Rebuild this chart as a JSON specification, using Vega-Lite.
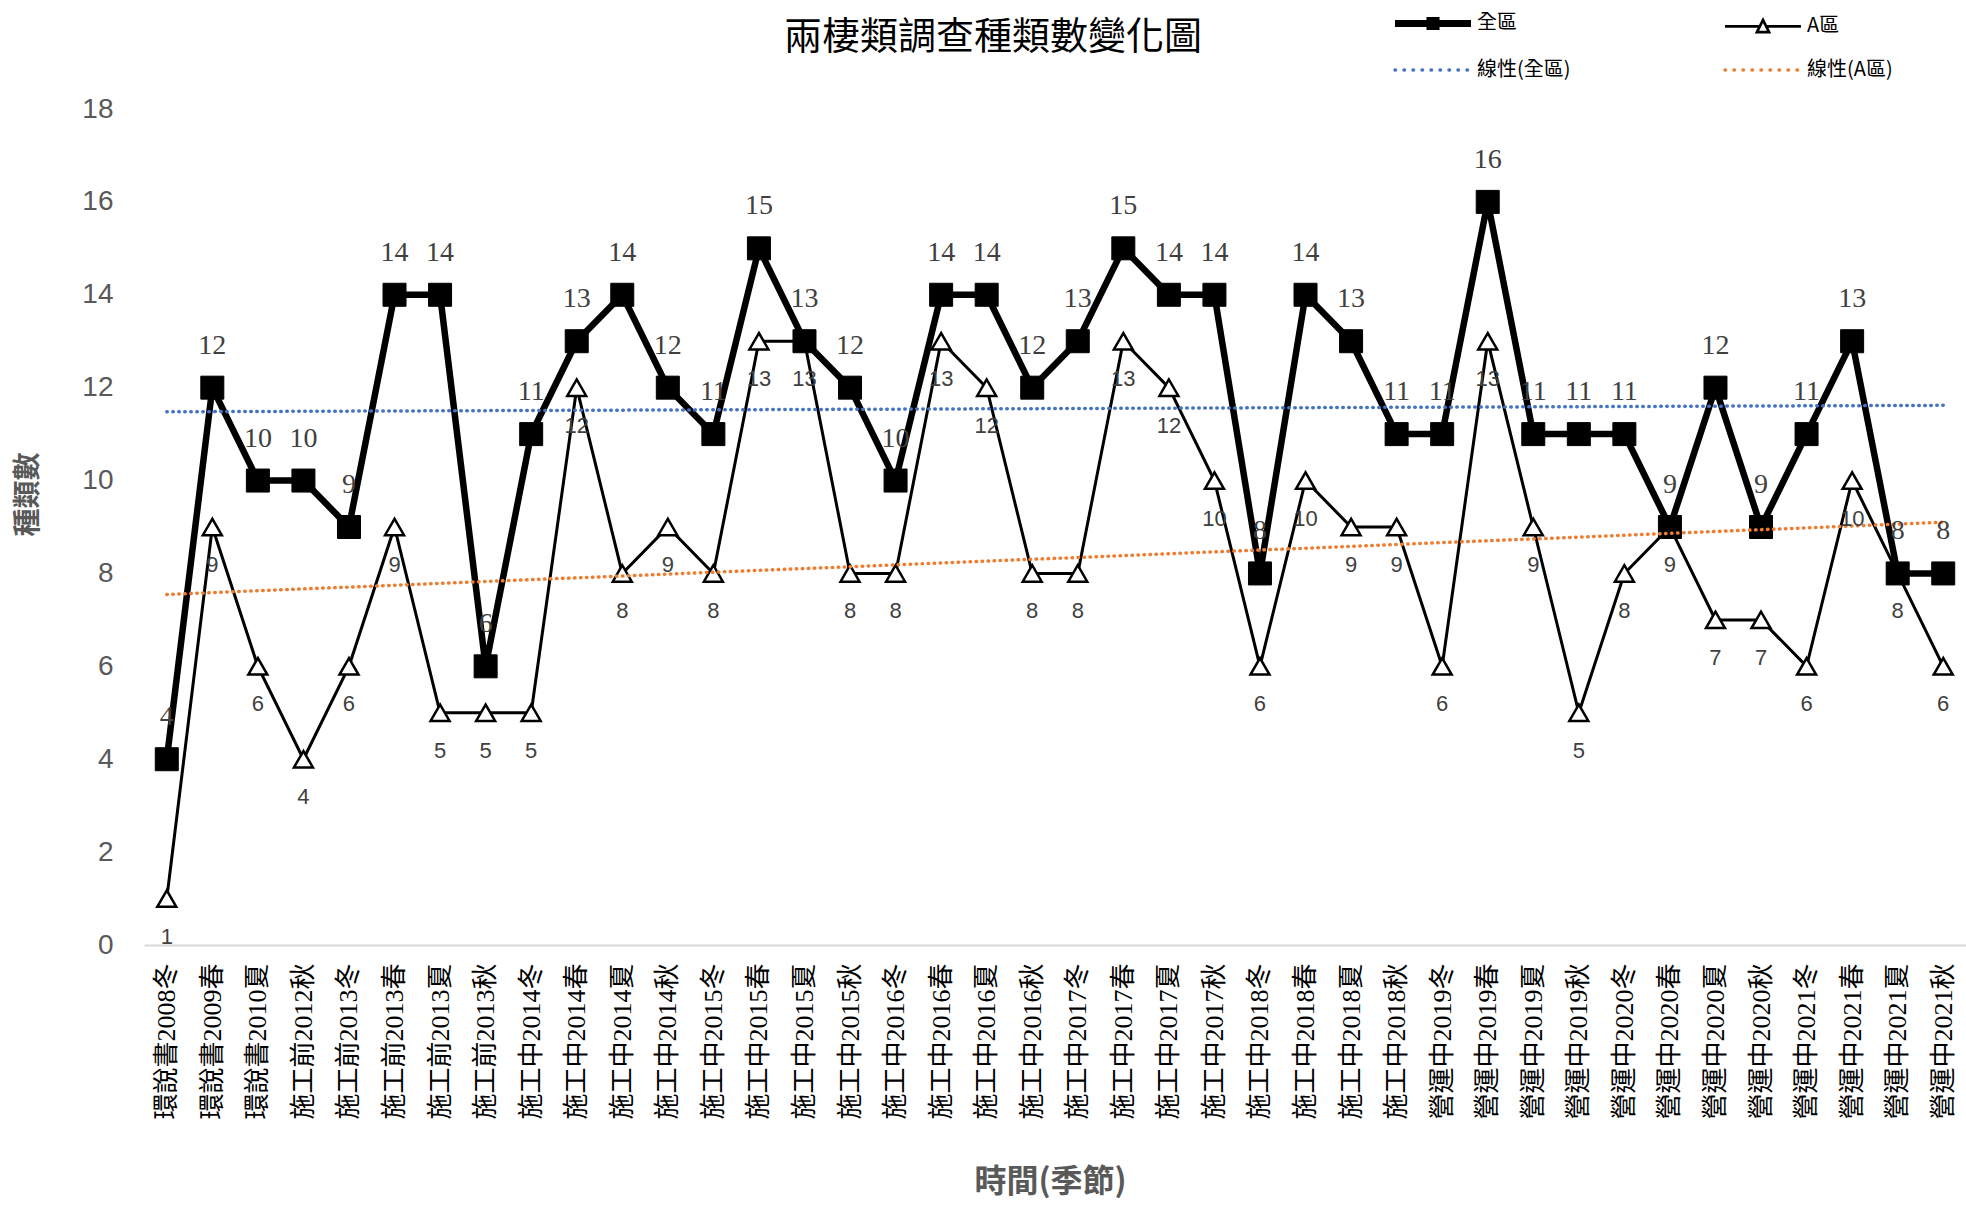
{
 "$schema": "https://vega.github.io/schema/vega-lite/v6.json",
 "autosize": {"type": "none"},
 "padding": {"left": 144, "top": 109, "right": 0, "bottom": 260},
 "width": 1822,
 "height": 836,
 "background": "white",
 "title": {"text": "兩棲類調查種類數變化圖", "font": "Noto Sans CJK TC", "fontSize": 38, "fontWeight": "normal", "color": "#000000", "anchor": "middle", "frame": "group", "offset": 0, "dy": 44, "dx": -62},
 "config": {"view": {"stroke": null}, "axis": {"grid": false}},
 "datasets": {"main": [
  {"cat":"環說書2008冬","i":1,"series":"全區","trend":"線性(全區)","v":4},
  {"cat":"環說書2009春","i":2,"series":"全區","trend":"線性(全區)","v":12},
  {"cat":"環說書2010夏","i":3,"series":"全區","trend":"線性(全區)","v":10},
  {"cat":"施工前2012秋","i":4,"series":"全區","trend":"線性(全區)","v":10},
  {"cat":"施工前2013冬","i":5,"series":"全區","trend":"線性(全區)","v":9},
  {"cat":"施工前2013春","i":6,"series":"全區","trend":"線性(全區)","v":14},
  {"cat":"施工前2013夏","i":7,"series":"全區","trend":"線性(全區)","v":14},
  {"cat":"施工前2013秋","i":8,"series":"全區","trend":"線性(全區)","v":6},
  {"cat":"施工中2014冬","i":9,"series":"全區","trend":"線性(全區)","v":11},
  {"cat":"施工中2014春","i":10,"series":"全區","trend":"線性(全區)","v":13},
  {"cat":"施工中2014夏","i":11,"series":"全區","trend":"線性(全區)","v":14},
  {"cat":"施工中2014秋","i":12,"series":"全區","trend":"線性(全區)","v":12},
  {"cat":"施工中2015冬","i":13,"series":"全區","trend":"線性(全區)","v":11},
  {"cat":"施工中2015春","i":14,"series":"全區","trend":"線性(全區)","v":15},
  {"cat":"施工中2015夏","i":15,"series":"全區","trend":"線性(全區)","v":13},
  {"cat":"施工中2015秋","i":16,"series":"全區","trend":"線性(全區)","v":12},
  {"cat":"施工中2016冬","i":17,"series":"全區","trend":"線性(全區)","v":10},
  {"cat":"施工中2016春","i":18,"series":"全區","trend":"線性(全區)","v":14},
  {"cat":"施工中2016夏","i":19,"series":"全區","trend":"線性(全區)","v":14},
  {"cat":"施工中2016秋","i":20,"series":"全區","trend":"線性(全區)","v":12},
  {"cat":"施工中2017冬","i":21,"series":"全區","trend":"線性(全區)","v":13},
  {"cat":"施工中2017春","i":22,"series":"全區","trend":"線性(全區)","v":15},
  {"cat":"施工中2017夏","i":23,"series":"全區","trend":"線性(全區)","v":14},
  {"cat":"施工中2017秋","i":24,"series":"全區","trend":"線性(全區)","v":14},
  {"cat":"施工中2018冬","i":25,"series":"全區","trend":"線性(全區)","v":8},
  {"cat":"施工中2018春","i":26,"series":"全區","trend":"線性(全區)","v":14},
  {"cat":"施工中2018夏","i":27,"series":"全區","trend":"線性(全區)","v":13},
  {"cat":"施工中2018秋","i":28,"series":"全區","trend":"線性(全區)","v":11},
  {"cat":"營運中2019冬","i":29,"series":"全區","trend":"線性(全區)","v":11},
  {"cat":"營運中2019春","i":30,"series":"全區","trend":"線性(全區)","v":16},
  {"cat":"營運中2019夏","i":31,"series":"全區","trend":"線性(全區)","v":11},
  {"cat":"營運中2019秋","i":32,"series":"全區","trend":"線性(全區)","v":11},
  {"cat":"營運中2020冬","i":33,"series":"全區","trend":"線性(全區)","v":11},
  {"cat":"營運中2020春","i":34,"series":"全區","trend":"線性(全區)","v":9},
  {"cat":"營運中2020夏","i":35,"series":"全區","trend":"線性(全區)","v":12},
  {"cat":"營運中2020秋","i":36,"series":"全區","trend":"線性(全區)","v":9},
  {"cat":"營運中2021冬","i":37,"series":"全區","trend":"線性(全區)","v":11},
  {"cat":"營運中2021春","i":38,"series":"全區","trend":"線性(全區)","v":13},
  {"cat":"營運中2021夏","i":39,"series":"全區","trend":"線性(全區)","v":8},
  {"cat":"營運中2021秋","i":40,"series":"全區","trend":"線性(全區)","v":8},
  {"cat":"環說書2008冬","i":1,"series":"A區","trend":"線性(A區)","v":1},
  {"cat":"環說書2009春","i":2,"series":"A區","trend":"線性(A區)","v":9},
  {"cat":"環說書2010夏","i":3,"series":"A區","trend":"線性(A區)","v":6},
  {"cat":"施工前2012秋","i":4,"series":"A區","trend":"線性(A區)","v":4},
  {"cat":"施工前2013冬","i":5,"series":"A區","trend":"線性(A區)","v":6},
  {"cat":"施工前2013春","i":6,"series":"A區","trend":"線性(A區)","v":9},
  {"cat":"施工前2013夏","i":7,"series":"A區","trend":"線性(A區)","v":5},
  {"cat":"施工前2013秋","i":8,"series":"A區","trend":"線性(A區)","v":5},
  {"cat":"施工中2014冬","i":9,"series":"A區","trend":"線性(A區)","v":5},
  {"cat":"施工中2014春","i":10,"series":"A區","trend":"線性(A區)","v":12},
  {"cat":"施工中2014夏","i":11,"series":"A區","trend":"線性(A區)","v":8},
  {"cat":"施工中2014秋","i":12,"series":"A區","trend":"線性(A區)","v":9},
  {"cat":"施工中2015冬","i":13,"series":"A區","trend":"線性(A區)","v":8},
  {"cat":"施工中2015春","i":14,"series":"A區","trend":"線性(A區)","v":13},
  {"cat":"施工中2015夏","i":15,"series":"A區","trend":"線性(A區)","v":13},
  {"cat":"施工中2015秋","i":16,"series":"A區","trend":"線性(A區)","v":8},
  {"cat":"施工中2016冬","i":17,"series":"A區","trend":"線性(A區)","v":8},
  {"cat":"施工中2016春","i":18,"series":"A區","trend":"線性(A區)","v":13},
  {"cat":"施工中2016夏","i":19,"series":"A區","trend":"線性(A區)","v":12},
  {"cat":"施工中2016秋","i":20,"series":"A區","trend":"線性(A區)","v":8},
  {"cat":"施工中2017冬","i":21,"series":"A區","trend":"線性(A區)","v":8},
  {"cat":"施工中2017春","i":22,"series":"A區","trend":"線性(A區)","v":13},
  {"cat":"施工中2017夏","i":23,"series":"A區","trend":"線性(A區)","v":12},
  {"cat":"施工中2017秋","i":24,"series":"A區","trend":"線性(A區)","v":10},
  {"cat":"施工中2018冬","i":25,"series":"A區","trend":"線性(A區)","v":6},
  {"cat":"施工中2018春","i":26,"series":"A區","trend":"線性(A區)","v":10},
  {"cat":"施工中2018夏","i":27,"series":"A區","trend":"線性(A區)","v":9},
  {"cat":"施工中2018秋","i":28,"series":"A區","trend":"線性(A區)","v":9},
  {"cat":"營運中2019冬","i":29,"series":"A區","trend":"線性(A區)","v":6},
  {"cat":"營運中2019春","i":30,"series":"A區","trend":"線性(A區)","v":13},
  {"cat":"營運中2019夏","i":31,"series":"A區","trend":"線性(A區)","v":9},
  {"cat":"營運中2019秋","i":32,"series":"A區","trend":"線性(A區)","v":5},
  {"cat":"營運中2020冬","i":33,"series":"A區","trend":"線性(A區)","v":8},
  {"cat":"營運中2020春","i":34,"series":"A區","trend":"線性(A區)","v":9},
  {"cat":"營運中2020夏","i":35,"series":"A區","trend":"線性(A區)","v":7},
  {"cat":"營運中2020秋","i":36,"series":"A區","trend":"線性(A區)","v":7},
  {"cat":"營運中2021冬","i":37,"series":"A區","trend":"線性(A區)","v":6},
  {"cat":"營運中2021春","i":38,"series":"A區","trend":"線性(A區)","v":10},
  {"cat":"營運中2021夏","i":39,"series":"A區","trend":"線性(A區)","v":8},
  {"cat":"營運中2021秋","i":40,"series":"A區","trend":"線性(A區)","v":6}
 ]},
 "data": {"name": "main"},
 "encoding": {
  "x": {"field": "cat", "type": "ordinal",
   "scale": {"type": "point", "padding": 0.5, "domain": ["環說書2008冬","環說書2009春","環說書2010夏","施工前2012秋","施工前2013冬","施工前2013春","施工前2013夏","施工前2013秋","施工中2014冬","施工中2014春","施工中2014夏","施工中2014秋","施工中2015冬","施工中2015春","施工中2015夏","施工中2015秋","施工中2016冬","施工中2016春","施工中2016夏","施工中2016秋","施工中2017冬","施工中2017春","施工中2017夏","施工中2017秋","施工中2018冬","施工中2018春","施工中2018夏","施工中2018秋","營運中2019冬","營運中2019春","營運中2019夏","營運中2019秋","營運中2020冬","營運中2020春","營運中2020夏","營運中2020秋","營運中2021冬","營運中2021春","營運中2021夏","營運中2021秋"]},
   "axis": {"title": "時間(季節)", "titleFont": "Noto Sans CJK TC", "titleFontSize": 32, "titleFontWeight": "bold", "titleColor": "#595959", "titleX": 906, "titleY": 236, "titleAlign": "center", "titleBaseline": "middle",
    "labelAngle": -90, "labelFont": "Liberation Serif, Noto Sans CJK TC", "labelFontSize": 26, "labelColor": "#000000", "labelPadding": 18, "labelOverlap": false, "labelBound": false, "labelLimit": 400,
    "ticks": false, "domain": true, "domainColor": "#D9D9D9", "domainWidth": 2, "grid": false}},
  "y": {"field": "v", "type": "quantitative",
   "scale": {"domain": [0, 18], "nice": false, "zero": true},
   "axis": {"title": "種類數", "titleFont": "Noto Sans CJK TC", "titleFontSize": 28, "titleFontWeight": "bold", "titleColor": "#595959", "titleX": -116, "titleY": 385, "titleAngle": -90, "titleAlign": "center", "titleBaseline": "middle",
    "values": [0, 2, 4, 6, 8, 10, 12, 14, 16, 18], "labelFont": "Liberation Sans", "labelFontSize": 28, "labelColor": "#595959", "labelPadding": 31, "ticks": false, "domain": false, "grid": false}}
 },
 "layer": [
  {"transform": [{"filter": "datum.series == 'A區'"}],
   "mark": {"type": "line", "strokeWidth": 3, "strokeJoin": "miter"},
   "encoding": {"color": {"field": "series", "type": "nominal",
    "scale": {"domain": ["全區", "A區", "線性(全區)", "線性(A區)"], "range": ["#000000", "#000000", "#4472C4", "#ED7D31"]},
    "legend": {"title": null, "orient": "none", "legendX": 1250, "legendY": -96, "direction": "horizontal", "columns": 2, "columnPadding": 147, "rowPadding": 19,
     "symbolType": "stroke", "symbolSize": 5776, "symbolStrokeWidth": 3, "symbolOffset": 29, "labelFont": "Noto Sans CJK TC", "labelFontSize": 20, "labelColor": "#000000", "labelOffset": 34, "labelLimit": 300,
     "encode": {"symbols": {"update": {
      "shape": {"signal": "datum.value == '全區' ? 'M-1,0H1M-0.08,-0.08H0.08V0.08H-0.08Z' : datum.value == 'A區' ? 'M-1,0H-0.09M0.09,0H1M0,-0.17L0.16,0.15L-0.16,0.15Z' : 'stroke'"},
      "fill": {"signal": "datum.value == 'A區' ? '#FFFFFF' : 'transparent'"},
      "strokeWidth": {"signal": "datum.value == '全區' ? 7 : datum.value == 'A區' ? 2.7 : 3.5"},
      "strokeDash": {"signal": "indexof(datum.value, '線性') >= 0 ? [0.5, 8.5] : [1, 0]"},
      "strokeCap": {"signal": "indexof(datum.value, '線性') >= 0 ? 'round' : 'butt'"},
      "strokeJoin": {"value": "miter"}}}}}}}},
  {"transform": [{"filter": "datum.series == 'A區'"}],
   "mark": {"type": "point", "shape": "triangle-up", "filled": true, "fill": "#FFFFFF", "stroke": "#000000", "strokeWidth": 2.5, "size": 360, "opacity": 1}},
  {"transform": [{"filter": "datum.series == '全區'"}],
   "mark": {"type": "line", "strokeWidth": 6.5, "strokeJoin": "miter"},
   "encoding": {"color": {"field": "series", "type": "nominal"}}},
  {"transform": [{"filter": "datum.series == '全區'"}],
   "mark": {"type": "point", "shape": "square", "filled": true, "fill": "#000000", "stroke": "#000000", "strokeWidth": 1, "size": 529, "opacity": 1}},
  {"transform": [{"regression": "v", "on": "i", "groupby": ["trend"]},
    {"lookup": "i", "from": {"data": {"name": "main"}, "key": "i", "fields": ["cat"]}}],
   "mark": {"type": "line", "strokeWidth": 3.5, "strokeDash": [0.5, 5.5], "strokeCap": "round"},
   "encoding": {"color": {"field": "trend", "type": "nominal"}}},
  {"transform": [{"filter": "datum.series == '全區'"}],
   "mark": {"type": "text", "dy": -42, "font": "Liberation Serif", "fontSize": 28, "color": "#404040"},
   "encoding": {"text": {"field": "v", "type": "quantitative"}}},
  {"transform": [{"filter": "datum.series == 'A區'"}],
   "mark": {"type": "text", "dy": 38, "font": "Liberation Sans", "fontSize": 22, "color": "#404040"},
   "encoding": {"text": {"field": "v", "type": "quantitative"}}}
 ]
}
